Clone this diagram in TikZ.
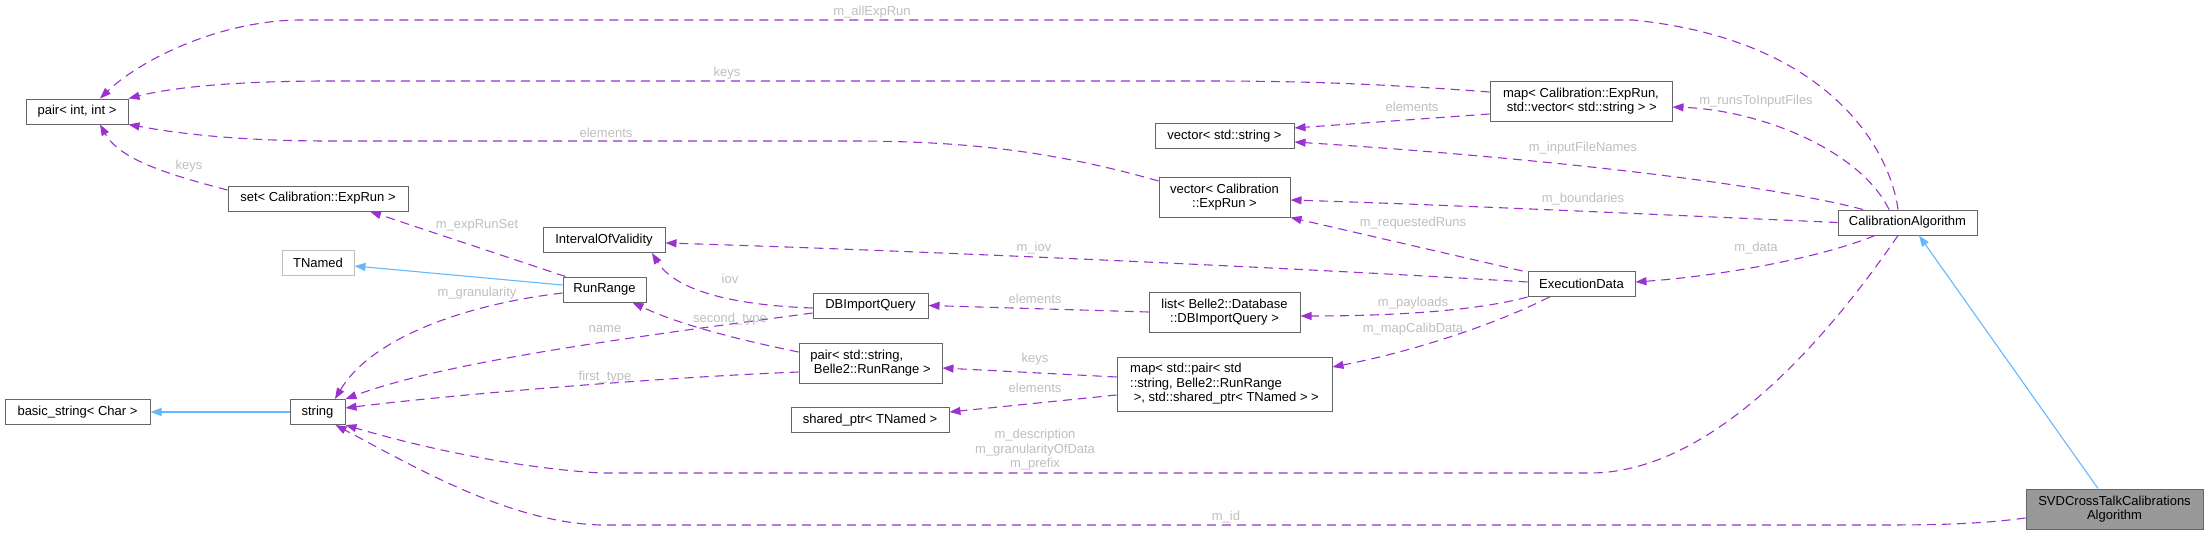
\documentclass[tikz,border=0pt]{standalone}
\usepackage{fontspec}
\setmainfont{Liberation Sans}
\usetikzlibrary{arrows.meta}

\begin{document}
\begin{tikzpicture}[x = 1pt, y = -1pt,
		classBox/.style={draw = boxGray, fill = white, line width = 1pt, inner sep = 0pt,
			minimum height = 25pt, font = \fontsize{13}{14.5}\selectfont},
		member/.style={draw = memberPurple, line width = 1.1pt, dash pattern = on 9pt off 6pt,
			-{Triangle[length = 11pt, width = 8pt]}},
		inheritance/.style={draw = baseBlue, line width = 1.1pt,
			-{Triangle[length = 11pt, width = 8pt]}},
		edgeLabel/.style={text = labelGray, inner sep = 0pt, font = \fontsize{13}{14.5}\selectfont},
	]

		\definecolor{memberPurple}{HTML}{9A32CD}
		\definecolor{baseBlue}{HTML}{63B8FF}
		\definecolor{boxGray}{HTML}{666666}
		\definecolor{lightBorder}{HTML}{BFBFBF}
		\definecolor{labelGray}{HTML}{BEBEBE}
		\definecolor{svdGray}{HTML}{999999}

		\useasboundingbox (0, 0) rectangle (2208, 535);

		% Left column
		\node[classBox, minimum width = 102pt] (pairIntInt) at (77, 111.5) {pair< int, int >};
		\node[classBox, minimum width = 145pt] (basicString) at (77.5, 412) {basic\_string< Char >};

		% Second column
		\node[classBox, minimum width = 180pt] (setExpRun) at (318, 198.5) {set< Calibration::ExpRun >};
		\node[classBox, minimum width = 72pt, draw = lightBorder] (tNamed) at (318, 262.5) {TNamed};
		\node[classBox, minimum width = 55pt] (stdString) at (317.5, 412) {string};

		% Third column
		\node[classBox, minimum width = 122pt] (intervalOfValidity) at (604, 240) {IntervalOfValidity};
		\node[classBox, minimum width = 83pt] (runRange) at (604.5, 289.5) {RunRange};

		% Fourth column
		\node[classBox, minimum width = 115pt] (dbImportQuery) at (870.5, 305.5) {DBImportQuery};
		\node[classBox, minimum width = 143pt, minimum height = 40pt, align = left] (pairRunRange) at (870.5, 363)
			{pair< std::string,\\~Belle2::RunRange >};
		\node[classBox, minimum width = 158pt] (sharedPtr) at (870, 420) {shared\_ptr< TNamed >};

		% Fifth column
		\node[classBox, minimum width = 139pt] (vectorString) at (1224.5, 136) {vector< std::string >};
		\node[classBox, minimum width = 131pt, minimum height = 40pt, align = center] (vectorExpRun) at (1224.5, 197)
			{vector< Calibration\\::ExpRun >};
		\node[classBox, minimum width = 151pt, minimum height = 40pt, align = center] (listQuery) at (1224.5, 312)
			{list< Belle2::Database\\::DBImportQuery >};
		\node[classBox, minimum width = 215pt, minimum height = 54pt, align = left] (mapPair) at (1224.5, 384)
			{map< std::pair< std\\::string, Belle2::RunRange\\~>, std::shared\_ptr< TNamed > >};

		% Sixth column
		\node[classBox, minimum width = 182pt, minimum height = 40pt, align = left] (mapExpRun) at (1581, 101)
			{map< Calibration::ExpRun,\\~std::vector< std::string > >};
		\node[classBox, minimum width = 107pt] (executionData) at (1581.5, 284) {ExecutionData};

		% Right side
		\node[classBox, minimum width = 139pt] (calibrationAlgorithm) at (1907.5, 222.5) {CalibrationAlgorithm};
		\node[classBox, minimum width = 177pt, minimum height = 40pt, align = center, fill = svdGray] (svdAlgorithm)
			at (2114.5, 509) {SVDCrossTalkCalibrations\\Algorithm};

		% Inheritance
		\draw[inheritance] (stdString.west) -- (basicString.east);
		\draw[inheritance] ([yshift = 4.5pt]runRange.west) -- ([yshift = -3.5pt]tNamed.east);
		\draw[inheritance] ([xshift = -16.5pt]svdAlgorithm.north) -- ([xshift = 11.5pt]calibrationAlgorithm.south);

		% Members of CalibrationAlgorithm
		\draw[member] ([xshift = -9.5pt]calibrationAlgorithm.north) .. controls (1890, 150) and (1830, 40) .. (1633, 20)
			-- (302, 20) .. controls (220, 20) and (140, 60) .. ([xshift = 23pt]pairIntInt.north);
		\draw[member] ([xshift = -18.5pt]calibrationAlgorithm.north) .. controls (1860, 150) and (1760, 110)
			.. ([yshift = -6pt]mapExpRun.east);
		\draw[member] ([xshift = -44.5pt]calibrationAlgorithm.north) .. controls (1750, 180) and (1500, 155)
			.. ([yshift = -6pt]vectorString.east);
		\draw[member] (calibrationAlgorithm.west) .. controls (1600, 212) and (1450, 205) .. ([yshift = -3pt]vectorExpRun.east);
		\draw[member] ([xshift = -32.5pt]calibrationAlgorithm.south) .. controls (1820, 258) and (1720, 276)
			.. ([yshift = 2pt]executionData.east);
		\draw[member] ([xshift = -9.5pt]calibrationAlgorithm.south) .. controls (1840, 320) and (1720, 473) .. (1590, 473)
			-- (600, 473) .. controls (520, 468) and (430, 450) .. (stdString.south east);

		% Member of SVDCrossTalkCalibrationsAlgorithm
		\draw[member] ([yshift = -9pt]svdAlgorithm.west) .. controls (1980, 524) and (1940, 525) .. (1880, 525)
			-- (600, 525) .. controls (510, 522) and (420, 470) .. ([xshift = -10pt]stdString.south east);

		% Members of ExecutionData
		\draw[member] ([yshift = 2pt]executionData.west) .. controls (1300, 268) and (900, 250)
			.. ([yshift = -3pt]intervalOfValidity.east);
		\draw[member] ([xshift = -5pt]executionData.north west) -- (vectorExpRun.south east);
		\draw[member] (executionData.south west) .. controls (1480, 310) and (1400, 316) .. ([yshift = -4pt]listQuery.east);
		\draw[member] ([xshift = 22pt]executionData.south west) .. controls (1500, 322) and (1420, 350)
			.. ([yshift = 17pt]mapPair.east);

		% Keys and elements of the containers
		\draw[member] ([yshift = 9pt]mapExpRun.west) .. controls (1330, 80) and (1250, 81) .. (1150, 81)
			-- (330, 81) .. controls (230, 81) and (170, 88) .. (pairIntInt.north east);
		\draw[member] ([yshift = -13pt]mapExpRun.west) -- ([yshift = 8pt]vectorString.east);
		\draw[member] ([yshift = 16pt]vectorExpRun.west) .. controls (1050, 150) and (960, 141) .. (850, 141)
			-- (330, 141) .. controls (230, 141) and (170, 132) .. (pairIntInt.south east);
		\draw[member] ([yshift = 8.5pt]setExpRun.west) .. controls (170, 175) and (120, 160) .. ([xshift = 23pt]pairIntInt.south);
		\draw[member] (listQuery.west) -- (dbImportQuery.east);
		\draw[member] ([yshift = 7pt]mapPair.west) -- ([yshift = -5pt]pairRunRange.east);
		\draw[member] ([yshift = -11pt]mapPair.west) -- ([yshift = 8pt]sharedPtr.east);

		% Members of DBImportQuery and the pair
		\draw[member] ([yshift = -2.5pt]dbImportQuery.west) .. controls (730, 305) and (675, 290)
			.. ([xshift = 48pt]intervalOfValidity.south);
		\draw[member] ([yshift = -7.5pt]dbImportQuery.west) .. controls (650, 335) and (450, 360) .. (stdString.north east);
		\draw[member] ([yshift = 11pt]pairRunRange.west) .. controls (740, 340) and (680, 325) .. ([xshift = 28pt]runRange.south);
		\draw[member] ([yshift = -9pt]pairRunRange.west) .. controls (650, 378) and (450, 395) .. ([yshift = 4pt]stdString.east);

		% Members of RunRange
		\draw[member] ([xshift = 3pt]runRange.north west) -- ([xshift = 52pt]setExpRun.south);
		\draw[member] ([yshift = -3.5pt]runRange.west) .. controls (460, 305) and (370, 340) .. ([xshift = 17.5pt]stdString.north);

		% Edge labels
		\node[edgeLabel] (allExpRunLabel) at (872, 12) {m\_allExpRun};
		\node[edgeLabel] (keysPairLabel) at (727, 73) {keys};
		\node[edgeLabel] (elementsPairLabel) at (606, 133) {elements};
		\node[edgeLabel] (keysSetLabel) at (189, 166) {keys};
		\node[edgeLabel] (expRunSetLabel) at (477, 225) {m\_expRunSet};
		\node[edgeLabel] (granularityLabel) at (477, 293) {m\_granularity};
		\node[edgeLabel] (iovLabel) at (730, 279) {iov};
		\node[edgeLabel] (nameLabel) at (605, 329) {name};
		\node[edgeLabel] (secondTypeLabel) at (730, 319) {second\_type};
		\node[edgeLabel] (firstTypeLabel) at (605, 377) {first\_type};
		\node[edgeLabel] (elementsQueryLabel) at (1035, 299) {elements};
		\node[edgeLabel] (keysRunRangeLabel) at (1035, 359) {keys};
		\node[edgeLabel] (elementsPtrLabel) at (1035, 388) {elements};
		\node[edgeLabel] (iovMemberLabel) at (1034, 248) {m\_iov};
		\node[edgeLabel] (requestedRunsLabel) at (1413, 223) {m\_requestedRuns};
		\node[edgeLabel] (payloadsLabel) at (1413, 303) {m\_payloads};
		\node[edgeLabel] (mapCalibDataLabel) at (1413, 329) {m\_mapCalibData};
		\node[edgeLabel] (runsToInputFilesLabel) at (1756, 101) {m\_runsToInputFiles};
		\node[edgeLabel] (inputFileNamesLabel) at (1583, 148) {m\_inputFileNames};
		\node[edgeLabel] (elementsStringLabel) at (1412, 107) {elements};
		\node[edgeLabel] (boundariesLabel) at (1583, 199) {m\_boundaries};
		\node[edgeLabel] (dataLabel) at (1756, 248) {m\_data};
		\node[edgeLabel, align = center] (descriptionLabel) at (1035, 450)
			{m\_description\\m\_granularityOfData\\m\_prefix};
		\node[edgeLabel] (idLabel) at (1226, 517) {m\_id};

	\end{tikzpicture}
\end{document}
